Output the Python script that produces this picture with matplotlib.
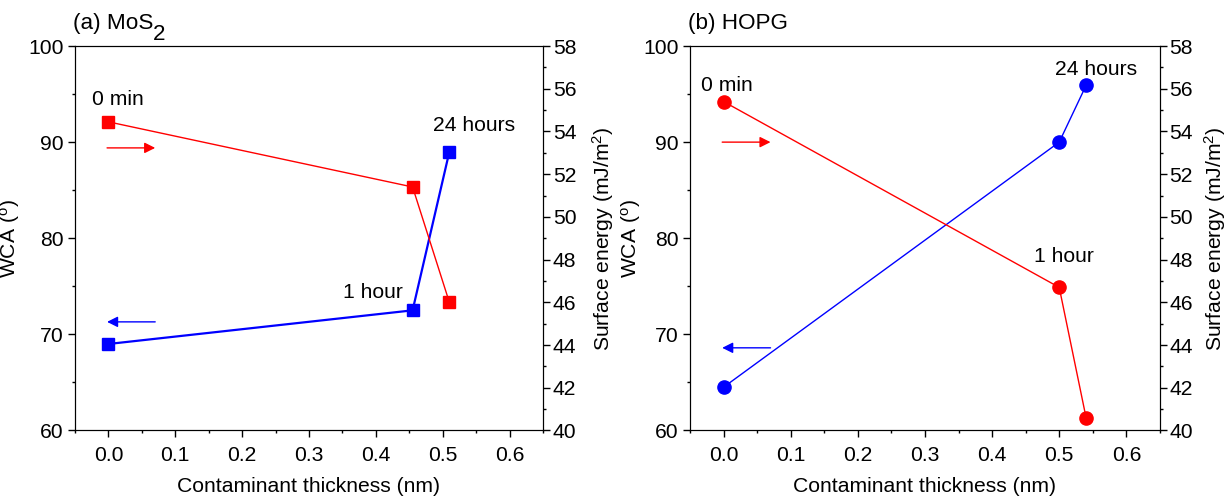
import matplotlib.pyplot as plt
from matplotlib.ticker import MultipleLocator

plt.rcParams['font.family'] = ['Liberation Sans', 'DejaVu Sans']
plt.rcParams['mathtext.fontset'] = 'custom'
plt.rcParams['mathtext.rm'] = 'Liberation Sans'
plt.rcParams['mathtext.it'] = 'Liberation Sans'

# contaminant thickness (nm)
mos2_x = [0.0, 0.455, 0.51]
mos2_wca = [69.0, 72.5, 89.0]
mos2_energy = [54.45, 51.4, 46.0]

hopg_x = [0.0, 0.50, 0.54]
hopg_wca = [64.5, 90.0, 95.9]
hopg_energy = [55.4, 46.7, 40.6]

stage_labels = ['0 min', '1 hour', '24 hours']

FS = 15.2


def setup(ax, ax2, left_lab_x, right_lab_x):
    ax.set_xlim(-0.05, 0.65)
    ax.set_ylim(60, 100)
    ax2.set_ylim(40, 58)
    ax.xaxis.set_major_locator(MultipleLocator(0.1))
    ax.xaxis.set_minor_locator(MultipleLocator(0.05))
    ax.yaxis.set_major_locator(MultipleLocator(10))
    ax.yaxis.set_minor_locator(MultipleLocator(5))
    ax2.yaxis.set_major_locator(MultipleLocator(2))
    ax2.yaxis.set_minor_locator(MultipleLocator(1))
    ax.xaxis.set_major_formatter(plt.FuncFormatter(lambda v, p: '%.1f' % v))
    for a in (ax, ax2):
        a.tick_params(which='major', length=5, width=1, labelsize=FS, direction='out')
        a.tick_params(which='minor', length=2.5, width=1, direction='out')
    ax.tick_params(axis='y', pad=3)
    ax2.tick_params(axis='y', pad=2)
    ax.tick_params(axis='x', pad=6)
    ax.set_xlabel('Contaminant thickness (nm)', fontsize=FS)
    ax.set_ylabel('WCA ($^o$)', fontsize=FS)
    ax2.set_ylabel('Surface energy (mJ/m$^2$)', fontsize=FS)
    ax.xaxis.set_label_coords(0.5, -0.12)
    ax.yaxis.set_label_coords(left_lab_x, 0.5)
    ax2.yaxis.set_label_coords(right_lab_x, 0.5)


def panel(ax, x, wca, energy, marker, blue_lw, arrow_red_y, arrow_blue_y,
          label_pos, title, left_lab_x, right_lab_x):
    ax2 = ax.twinx()
    ms = 8 if marker == 's' else 9.5
    ax.plot(x, wca, color='#0000ff', lw=blue_lw, marker=marker, ms=ms, zorder=3)
    ax2.plot(x, energy, color='#ff0000', lw=1.0, marker=marker, ms=ms, zorder=3)
    setup(ax, ax2, left_lab_x, right_lab_x)
    # direction arrows
    ax.annotate('', xy=(0.07, arrow_red_y), xytext=(-0.002, arrow_red_y),
                arrowprops=dict(arrowstyle='-|>', color='#ff0000', lw=1.0,
                                mutation_scale=16, shrinkA=0, shrinkB=0))
    ax.annotate('', xy=(-0.002, arrow_blue_y), xytext=(0.07, arrow_blue_y),
                arrowprops=dict(arrowstyle='-|>', color='#0000ff', lw=1.0,
                                mutation_scale=16, shrinkA=0, shrinkB=0))
    for lab, (lx, ly, ha) in zip(stage_labels, label_pos):
        ax.text(lx, ly, lab, fontsize=FS, ha=ha, va='center')
    t = ax.text(-0.005, 1.03, title, transform=ax.transAxes, fontsize=FS + 1,
                ha='left', va='bottom')
    return ax2, t


fig = plt.figure(figsize=(12.29, 4.99), dpi=100)
ax_a = fig.add_axes([0.0610, 0.1373, 0.3808, 0.7705])
ax_b = fig.add_axes([0.5614, 0.1373, 0.3824, 0.7705])

_, ta = panel(ax_a, mos2_x, mos2_wca, mos2_energy, 's', 1.6, 89.4, 71.3,
              [(-0.025, 94.4, 'left'), (0.441, 74.4, 'right'), (0.485, 91.7, 'left')],
              '(a) MoS', -0.113, 1.1)
ax_a.annotate('2', xy=(1.0, 0.0), xycoords=ta, fontsize=FS + 1,
              ha='left', va='center')

panel(ax_b, hopg_x, hopg_wca, hopg_energy, 'o', 1.0, 90.0, 68.6,
      [(-0.034, 95.9, 'left'), (0.463, 78.1, 'left'), (0.494, 97.6, 'left')],
      '(b) HOPG', -0.100, 1.09)

fig.savefig('out.png', dpi=100)
